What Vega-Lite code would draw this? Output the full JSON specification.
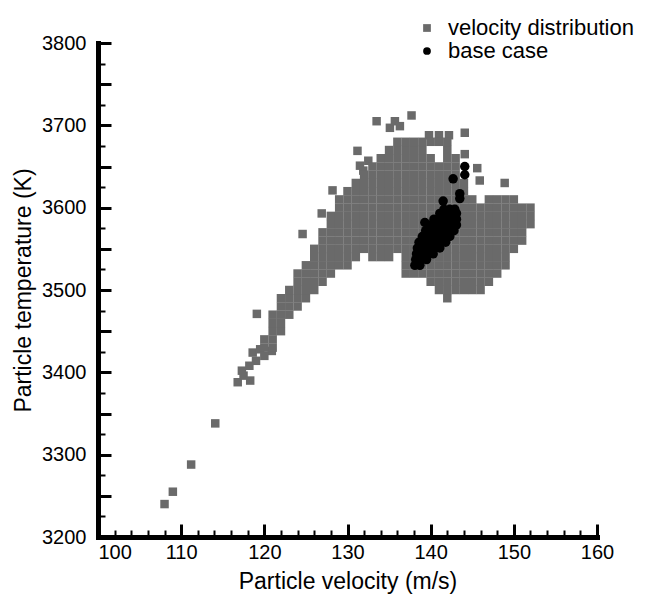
{
  "$schema": "https://vega.github.io/schema/vega-lite/v6.json",
  "width": 499,
  "height": 494,
  "autosize": {"type": "none"},
  "padding": {"left": 98, "top": 43, "right": 50, "bottom": 59},
  "background": "white",
  "config": {"view": {"stroke": null}, "font": "Liberation Sans"},
  "resolve": {"axis": {"x": "independent", "y": "independent"}},
  "datasets": {
    "dist": [
      {"v":108,"t":3240},{"v":109,"t":3255},{"v":111.2,"t":3288},{"v":114.1,"t":3338},
      {"v":116.8,"t":3388},{"v":117.5,"t":3396},{"v":118.3,"t":3390},{"v":117.3,"t":3402},
      {"v":118.2,"t":3408},{"v":119,"t":3414},{"v":118.6,"t":3424},{"v":119.5,"t":3428},
      {"v":120.9,"t":3426},{"v":119.1,"t":3471},{"v":124.6,"t":3568},{"v":126.9,"t":3593},
      {"v":128.2,"t":3621},{"v":131.2,"t":3669},{"v":132.5,"t":3657},{"v":131.5,"t":3651},
      {"v":131.9,"t":3645},{"v":133.5,"t":3705},{"v":135.1,"t":3697},{"v":135.7,"t":3705},
      {"v":136.3,"t":3699},{"v":137.7,"t":3712},{"v":144.1,"t":3691},{"v":144.1,"t":3665},
      {"v":145.6,"t":3648},{"v":145.9,"t":3633},{"v":148.9,"t":3630},
      {"v":139.8,"t":3688},{"v":141,"t":3688},{"v":142.2,"t":3688},
      {"v":120,"t":3420},{"v":120,"t":3430},{"v":120,"t":3440},
      {"v":121,"t":3430},{"v":121,"t":3440},{"v":121,"t":3450},{"v":121,"t":3460},{"v":121,"t":3470},
      {"v":122,"t":3450},{"v":122,"t":3460},{"v":122,"t":3470},{"v":122,"t":3480},{"v":122,"t":3490},
      {"v":123,"t":3470},{"v":123,"t":3480},{"v":123,"t":3490},{"v":123,"t":3500},
      {"v":124,"t":3480},{"v":124,"t":3490},{"v":124,"t":3500},{"v":124,"t":3510},{"v":124,"t":3520},
      {"v":125,"t":3490},{"v":125,"t":3500},{"v":125,"t":3510},{"v":125,"t":3520},{"v":125,"t":3530},
      {"v":126,"t":3500},{"v":126,"t":3510},{"v":126,"t":3520},{"v":126,"t":3530},{"v":126,"t":3540},{"v":126,"t":3550},
      {"v":127,"t":3510},{"v":127,"t":3520},{"v":127,"t":3530},{"v":127,"t":3540},{"v":127,"t":3550},{"v":127,"t":3560},{"v":127,"t":3570},
      {"v":128,"t":3520},{"v":128,"t":3530},{"v":128,"t":3540},{"v":128,"t":3550},{"v":128,"t":3560},{"v":128,"t":3570},{"v":128,"t":3580},{"v":128,"t":3590},
      {"v":129,"t":3530},{"v":129,"t":3540},{"v":129,"t":3550},{"v":129,"t":3560},{"v":129,"t":3570},{"v":129,"t":3580},{"v":129,"t":3590},{"v":129,"t":3600},{"v":129,"t":3610},
      {"v":130,"t":3530},{"v":130,"t":3540},{"v":130,"t":3550},{"v":130,"t":3560},{"v":130,"t":3570},{"v":130,"t":3580},{"v":130,"t":3590},{"v":130,"t":3600},{"v":130,"t":3610},{"v":130,"t":3620},
      {"v":131,"t":3540},{"v":131,"t":3550},{"v":131,"t":3560},{"v":131,"t":3570},{"v":131,"t":3580},{"v":131,"t":3590},{"v":131,"t":3600},{"v":131,"t":3610},{"v":131,"t":3620},{"v":131,"t":3630},
      {"v":132,"t":3550},{"v":132,"t":3560},{"v":132,"t":3570},{"v":132,"t":3580},{"v":132,"t":3590},{"v":132,"t":3600},{"v":132,"t":3610},{"v":132,"t":3620},{"v":132,"t":3630},{"v":132,"t":3640},
      {"v":133,"t":3540},{"v":133,"t":3550},{"v":133,"t":3560},{"v":133,"t":3570},{"v":133,"t":3580},{"v":133,"t":3590},{"v":133,"t":3600},{"v":133,"t":3610},{"v":133,"t":3620},{"v":133,"t":3630},{"v":133,"t":3640},{"v":133,"t":3650},
      {"v":134,"t":3540},{"v":134,"t":3550},{"v":134,"t":3560},{"v":134,"t":3570},{"v":134,"t":3580},{"v":134,"t":3590},{"v":134,"t":3600},{"v":134,"t":3610},{"v":134,"t":3620},{"v":134,"t":3630},{"v":134,"t":3640},{"v":134,"t":3650},{"v":134,"t":3660},
      {"v":135,"t":3540},{"v":135,"t":3550},{"v":135,"t":3560},{"v":135,"t":3570},{"v":135,"t":3580},{"v":135,"t":3590},{"v":135,"t":3600},{"v":135,"t":3610},{"v":135,"t":3620},{"v":135,"t":3630},{"v":135,"t":3640},{"v":135,"t":3650},{"v":135,"t":3660},{"v":135,"t":3670},
      {"v":136,"t":3550},{"v":136,"t":3560},{"v":136,"t":3570},{"v":136,"t":3580},{"v":136,"t":3590},{"v":136,"t":3600},{"v":136,"t":3610},{"v":136,"t":3620},{"v":136,"t":3630},{"v":136,"t":3640},{"v":136,"t":3650},{"v":136,"t":3660},{"v":136,"t":3670},{"v":136,"t":3680},
      {"v":137,"t":3520},{"v":137,"t":3530},{"v":137,"t":3540},{"v":137,"t":3550},{"v":137,"t":3560},{"v":137,"t":3570},{"v":137,"t":3580},{"v":137,"t":3590},{"v":137,"t":3600},{"v":137,"t":3610},{"v":137,"t":3620},{"v":137,"t":3630},{"v":137,"t":3640},{"v":137,"t":3650},{"v":137,"t":3660},{"v":137,"t":3670},{"v":137,"t":3680},
      {"v":138,"t":3520},{"v":138,"t":3530},{"v":138,"t":3540},{"v":138,"t":3550},{"v":138,"t":3560},{"v":138,"t":3570},{"v":138,"t":3580},{"v":138,"t":3590},{"v":138,"t":3600},{"v":138,"t":3610},{"v":138,"t":3620},{"v":138,"t":3630},{"v":138,"t":3640},{"v":138,"t":3650},{"v":138,"t":3660},{"v":138,"t":3670},{"v":138,"t":3680},
      {"v":139,"t":3520},{"v":139,"t":3530},{"v":139,"t":3540},{"v":139,"t":3550},{"v":139,"t":3560},{"v":139,"t":3570},{"v":139,"t":3580},{"v":139,"t":3590},{"v":139,"t":3600},{"v":139,"t":3610},{"v":139,"t":3620},{"v":139,"t":3630},{"v":139,"t":3640},{"v":139,"t":3650},{"v":139,"t":3660},{"v":139,"t":3670},{"v":139,"t":3680},
      {"v":140,"t":3510},{"v":140,"t":3520},{"v":140,"t":3530},{"v":140,"t":3540},{"v":140,"t":3550},{"v":140,"t":3560},{"v":140,"t":3570},{"v":140,"t":3580},{"v":140,"t":3590},{"v":140,"t":3600},{"v":140,"t":3610},{"v":140,"t":3620},{"v":140,"t":3630},{"v":140,"t":3640},{"v":140,"t":3650},{"v":140,"t":3660},{"v":140,"t":3680},
      {"v":141,"t":3500},{"v":141,"t":3510},{"v":141,"t":3520},{"v":141,"t":3530},{"v":141,"t":3540},{"v":141,"t":3550},{"v":141,"t":3560},{"v":141,"t":3570},{"v":141,"t":3580},{"v":141,"t":3590},{"v":141,"t":3600},{"v":141,"t":3610},{"v":141,"t":3620},{"v":141,"t":3630},{"v":141,"t":3640},{"v":141,"t":3650},{"v":141,"t":3680},
      {"v":142,"t":3490},{"v":142,"t":3500},{"v":142,"t":3510},{"v":142,"t":3520},{"v":142,"t":3530},{"v":142,"t":3540},{"v":142,"t":3550},{"v":142,"t":3560},{"v":142,"t":3570},{"v":142,"t":3580},{"v":142,"t":3590},{"v":142,"t":3600},{"v":142,"t":3610},{"v":142,"t":3620},{"v":142,"t":3630},{"v":142,"t":3640},{"v":142,"t":3650},{"v":142,"t":3660},{"v":142,"t":3670},{"v":142,"t":3680},
      {"v":143,"t":3500},{"v":143,"t":3510},{"v":143,"t":3520},{"v":143,"t":3530},{"v":143,"t":3540},{"v":143,"t":3550},{"v":143,"t":3560},{"v":143,"t":3570},{"v":143,"t":3580},{"v":143,"t":3590},{"v":143,"t":3600},{"v":143,"t":3610},{"v":143,"t":3620},{"v":143,"t":3630},{"v":143,"t":3640},{"v":143,"t":3650},{"v":143,"t":3660},
      {"v":144,"t":3500},{"v":144,"t":3510},{"v":144,"t":3520},{"v":144,"t":3530},{"v":144,"t":3540},{"v":144,"t":3550},{"v":144,"t":3560},{"v":144,"t":3570},{"v":144,"t":3580},{"v":144,"t":3590},{"v":144,"t":3600},{"v":144,"t":3610},{"v":144,"t":3620},{"v":144,"t":3630},
      {"v":145,"t":3500},{"v":145,"t":3510},{"v":145,"t":3520},{"v":145,"t":3530},{"v":145,"t":3540},{"v":145,"t":3550},{"v":145,"t":3560},{"v":145,"t":3570},{"v":145,"t":3580},{"v":145,"t":3590},{"v":145,"t":3600},{"v":145,"t":3610},
      {"v":146,"t":3500},{"v":146,"t":3510},{"v":146,"t":3520},{"v":146,"t":3530},{"v":146,"t":3540},{"v":146,"t":3550},{"v":146,"t":3560},{"v":146,"t":3570},{"v":146,"t":3580},{"v":146,"t":3590},{"v":146,"t":3600},
      {"v":147,"t":3510},{"v":147,"t":3520},{"v":147,"t":3530},{"v":147,"t":3540},{"v":147,"t":3550},{"v":147,"t":3560},{"v":147,"t":3570},{"v":147,"t":3580},{"v":147,"t":3590},{"v":147,"t":3600},{"v":147,"t":3610},
      {"v":148,"t":3520},{"v":148,"t":3530},{"v":148,"t":3540},{"v":148,"t":3550},{"v":148,"t":3560},{"v":148,"t":3570},{"v":148,"t":3580},{"v":148,"t":3590},{"v":148,"t":3600},{"v":148,"t":3610},
      {"v":149,"t":3530},{"v":149,"t":3540},{"v":149,"t":3550},{"v":149,"t":3560},{"v":149,"t":3570},{"v":149,"t":3580},{"v":149,"t":3590},{"v":149,"t":3600},{"v":149,"t":3610},
      {"v":150,"t":3550},{"v":150,"t":3560},{"v":150,"t":3570},{"v":150,"t":3580},{"v":150,"t":3590},{"v":150,"t":3600},{"v":150,"t":3610},
      {"v":151,"t":3560},{"v":151,"t":3570},{"v":151,"t":3580},{"v":151,"t":3590},{"v":151,"t":3600},
      {"v":152,"t":3580},{"v":152,"t":3590},{"v":152,"t":3600}
    ],
    "base": [
      {"v":138.1,"t":3530},{"v":138.7,"t":3530},
      {"v":138.2,"t":3537},{"v":138.85,"t":3537},{"v":139.5,"t":3537},
      {"v":138.3,"t":3544},{"v":139.0,"t":3544},{"v":139.6,"t":3544},{"v":140.3,"t":3544},
      {"v":138.4,"t":3551},{"v":139.1,"t":3551},{"v":139.8,"t":3551},{"v":140.4,"t":3551},{"v":141.1,"t":3551},
      {"v":138.6,"t":3558},{"v":139.2,"t":3558},{"v":139.9,"t":3558},{"v":140.5,"t":3558},{"v":141.2,"t":3558},{"v":141.8,"t":3558},
      {"v":139.0,"t":3565},{"v":139.7,"t":3565},{"v":140.3,"t":3565},{"v":141.0,"t":3565},{"v":141.6,"t":3565},{"v":142.3,"t":3565},
      {"v":139.4,"t":3572},{"v":140.1,"t":3572},{"v":140.8,"t":3572},{"v":141.4,"t":3572},{"v":142.1,"t":3572},{"v":142.8,"t":3572},
      {"v":139.8,"t":3579},{"v":140.5,"t":3579},{"v":141.1,"t":3579},{"v":141.8,"t":3579},{"v":142.4,"t":3579},{"v":143.1,"t":3579},
      {"v":140.4,"t":3586},{"v":141.1,"t":3586},{"v":141.8,"t":3586},{"v":142.4,"t":3586},{"v":143.1,"t":3586},
      {"v":141.1,"t":3593},{"v":141.8,"t":3593},{"v":142.4,"t":3593},{"v":143.1,"t":3593},
      {"v":141.6,"t":3598},{"v":142.3,"t":3598},{"v":142.9,"t":3598},
      {"v":139.3,"t":3582},{"v":141.5,"t":3608},
      {"v":142.7,"t":3635},{"v":144.1,"t":3640},{"v":144.1,"t":3650},{"v":143.5,"t":3617},{"v":143.5,"t":3611}
    ]
  },
  "layer": [
    {
      "data": {"name": "dist"},
      "mark": {"type": "point", "filled": true, "size": 72, "opacity": 1},
      "encoding": {
        "x": {
          "field": "v", "type": "quantitative",
          "scale": {"domain": [100, 160], "nice": false, "zero": false},
          "axis": {
            "orient": "bottom",
            "values": [100,110,120,130,140,150,160],
            "ticks": false,
            "labelAlign": {"condition": {"test": "datum.value === 100", "value": "left"}, "value": "center"},
            "labelFlush": false,
            "labelOverlap": false,
            "grid": false,
            "domainWidth": 5, "domainColor": "black", "domainCap": "square",
            "labelFontSize": 20, "labelColor": "black", "labelPadding": 5,
            "title": "Particle velocity (m/s)", "titleFontSize": 23, "titleFontWeight": "normal",
            "titleColor": "black", "titlePadding": 8
          }
        },
        "y": {
          "field": "t", "type": "quantitative",
          "scale": {"domain": [3200, 3800], "nice": false, "zero": false},
          "axis": {
            "orient": "left",
            "values": [3200,3300,3400,3500,3600,3700,3800],
            "format": "d",
            "ticks": false,
            "labelFlush": false,
            "labelOverlap": false,
            "grid": false,
            "domainWidth": 5, "domainColor": "black", "domainCap": "square",
            "labelFontSize": 20, "labelColor": "black", "labelPadding": 12,
            "title": "Particle temperature (K)", "titleFontSize": 23, "titleFontWeight": "normal",
            "titleColor": "black", "titlePadding": 6
          }
        },
        "color": {
          "datum": "velocity distribution", "type": "nominal",
          "scale": {"domain": ["velocity distribution", "base case"], "range": ["#6a6a6a", "#000000"]},
          "legend": {
            "title": null, "orient": "none", "legendX": 318, "legendY": -26,
            "labelFontSize": 22, "labelColor": "black", "labelOffset": 10,
            "symbolSize": 60, "rowPadding": 1, "padding": 0, "labelLimit": 400
          }
        },
        "shape": {
          "datum": "velocity distribution", "type": "nominal",
          "scale": {"domain": ["velocity distribution", "base case"], "range": ["square", "circle"]}
        }
      }
    },
    {
      "data": {"name": "base"},
      "mark": {"type": "point", "filled": true, "size": 90, "opacity": 1},
      "encoding": {
        "x": {
          "field": "v", "type": "quantitative",
          "axis": {
            "orient": "top", "offset": -494,
            "values": [100,102,104,106,108,110,112,114,116,118,120,122,124,126,128,130,132,134,136,138,140,142,144,146,148,150,152,154,156,158,160],
            "labels": false, "domain": false, "grid": false, "title": null,
            "tickColor": "black",
            "tickSize": {"condition": {"test": "datum.value % 10 === 0", "value": 13}, "value": 7},
            "tickWidth": {"condition": {"test": "datum.value % 10 === 0", "value": 3}, "value": 2}
          }
        },
        "y": {
          "field": "t", "type": "quantitative",
          "axis": {
            "orient": "right", "offset": -499,
            "values": [3200,3225,3250,3275,3300,3325,3350,3375,3400,3425,3450,3475,3500,3525,3550,3575,3600,3625,3650,3675,3700,3725,3750,3775,3800],
            "labels": false, "domain": false, "grid": false, "title": null,
            "tickColor": "black",
            "tickSize": {"condition": {"test": "datum.value % 50 === 0", "value": 13}, "value": 7},
            "tickWidth": {"condition": {"test": "datum.value % 50 === 0", "value": 3}, "value": 2}
          }
        },
        "color": {"datum": "base case", "type": "nominal"},
        "shape": {"datum": "base case", "type": "nominal"}
      }
    }
  ]
}
